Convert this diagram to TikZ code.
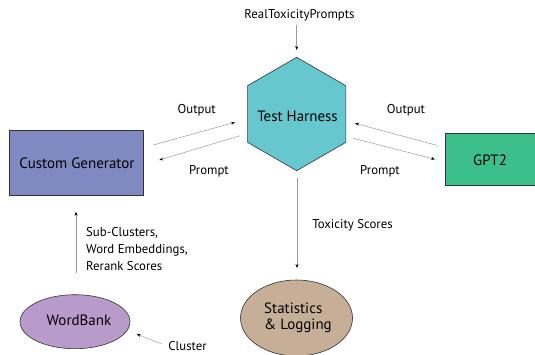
\documentclass[tikz,border=0pt]{standalone}
\usepackage{fontspec}
\setmainfont{PT Sans}
\usetikzlibrary{shapes.geometric,arrows.meta}
\definecolor{hexfill}{HTML}{66C7CE}
\definecolor{cgfill}{HTML}{7F8AC2}
\definecolor{gptfill}{HTML}{3DBF8C}
\definecolor{wbfill}{HTML}{B99BCB}
\definecolor{stfill}{HTML}{C7AF97}
\definecolor{edgecol}{HTML}{333333}
\definecolor{linecol}{HTML}{9A9A9A}
\tikzset{
  mainlbl/.style={font=\fontsize{15}{17}\selectfont, text=black},
  smalllbl/.style={font=\fontsize{12.8}{16.7}\selectfont, text=black, inner sep=0pt},
  boxnode/.style={draw=edgecol, line width=0.6pt, rectangle, mainlbl},
  ellnode/.style={draw=edgecol, line width=0.6pt, ellipse, mainlbl, inner sep=0pt},
  conn/.style={draw=linecol, line width=0.5pt, -{Stealth[color=black,length=4pt,width=3pt]}},
}
\begin{document}
\begin{tikzpicture}[x=1pt,y=-1pt]
\useasboundingbox (0,0) rectangle (535,354);
% nodes
\node[regular polygon, regular polygon sides=6, shape border rotate=90,
      minimum size=113.4pt, inner sep=0pt, fill=hexfill, draw=edgecol, line width=0.6pt, mainlbl]
      (th) at (296.7,114) {};
\node[mainlbl] (thl) at (297.5,116) {Test Harness};
\node[boxnode, fill=cgfill, minimum width=134pt, minimum height=65pt] (cg) at (76,162.5) {};
\node[mainlbl] (cgl) at (77,163) {Custom Generator};
\node[boxnode, fill=gptfill, minimum width=92pt, minimum height=52pt] (gpt) at (491,159) {};
\node[mainlbl] (gptl) at (490,160.5) {GPT2};
\node[ellnode, fill=wbfill, minimum width=110pt, minimum height=54pt] (wb) at (75,321.7) {};
\node[mainlbl] (wbl) at (79,320.7) {WordBank};
\node[ellnode, fill=stfill, minimum width=112pt, minimum height=76pt] (st) at (296.5,318) {};
\node[mainlbl, align=left] (stl) at (298,318) {Statistics\\[-1pt]\& Logging};
% labels
\node[smalllbl] (rtp) at (299.5,15) {RealToxicityPrompts};
\node[smalllbl] (out1) at (196.7,110) {Output};
\node[smalllbl] (pr1) at (209,171) {Prompt};
\node[smalllbl] (out2) at (406,110) {Output};
\node[smalllbl] (pr2) at (380,171) {Prompt};
\node[smalllbl] (tox) at (352.5,225.7) {Toxicity Scores};
\node[smalllbl, align=left, anchor=west] (sub) at (86,249) {Sub-Clusters,\\Word Embeddings,\\Rerank Scores};
\node[smalllbl] (clu) at (187.5,346.5) {Cluster};
% connector ends
\coordinate (a1) at (296.7,25);
\coordinate (a2) at (296.7,50);
\coordinate (o1s) at (153.3,145);
\coordinate (o1e) at (235,122.3);
\coordinate (p1s) at (240,135.7);
\coordinate (p1e) at (159.3,160);
\coordinate (o2s) at (437.5,145.5);
\coordinate (o2e) at (355,123.3);
\coordinate (p2s) at (353.3,138.3);
\coordinate (p2e) at (435,159.3);
\coordinate (ts) at (297,178);
\coordinate (te) at (297,268);
\coordinate (ss) at (76,272.7);
\coordinate (se) at (76,211.7);
\coordinate (cs) at (161.7,344);
\coordinate (ce) at (136.7,334);
% connectors
\draw[conn] (a1) -- (a2);
\draw[conn] (o1s) -- (o1e);
\draw[conn] (p1s) -- (p1e);
\draw[conn] (o2s) -- (o2e);
\draw[conn] (p2s) -- (p2e);
\draw[conn] (ts) -- (te);
\draw[conn] (ss) -- (se);
\draw[conn] (cs) -- (ce);
\end{tikzpicture}
\end{document}
